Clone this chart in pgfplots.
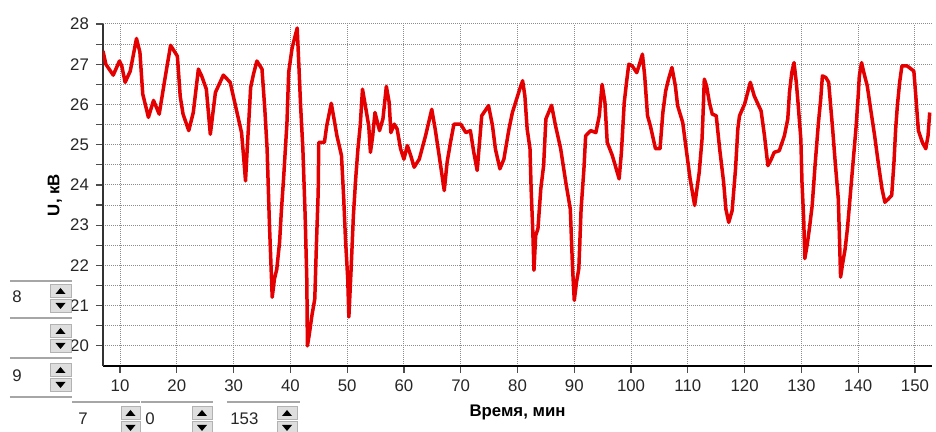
\documentclass[border=0pt]{standalone}
\usepackage{fontspec}
\setmainfont{Liberation Sans}
\usepackage{pgfplots}
\pgfplotsset{compat=1.18}
\usepackage{pgfplotstable}
\definecolor{lred}{RGB}{228,0,0}
\definecolor{gridg}{RGB}{140,140,140}
\definecolor{btn}{RGB}{222,222,222}
\pgfplotstableread{
x y
7.0 27.33
7.5 27.0
8.8 26.73
9.9 27.08
10.3 26.96
10.9 26.55
11.8 26.83
12.9 27.64
13.5 27.3
14.0 26.26
15.0 25.68
15.9 26.1
16.9 25.76
17.9 26.63
18.9 27.47
20.1 27.2
20.6 26.2
21.1 25.76
22.1 25.35
22.9 25.8
23.8 26.88
24.4 26.7
25.2 26.38
25.9 25.26
26.8 26.3
28.2 26.73
29.4 26.55
30.6 25.8
31.4 25.3
31.8 24.64
32.1 24.1
32.4 24.9
32.7 25.64
33.0 26.42
33.5 26.75
34.1 27.08
35.0 26.88
35.5 25.88
35.9 24.9
36.3 23.07
36.8 21.21
37.2 21.67
37.6 21.9
38.1 22.58
38.4 23.32
38.8 24.15
39.4 25.55
39.7 26.8
40.3 27.4
41.2 27.9
41.5 26.96
41.8 25.97
42.2 24.9
42.6 23.24
42.9 21.6
43.0 20.0
43.3 20.26
43.8 20.76
44.3 21.17
44.6 22.58
44.9 23.82
45.0 25.06
46.0 25.06
46.4 25.47
47.2 26.03
47.8 25.55
48.2 25.22
49.0 24.73
49.4 23.65
49.7 22.66
50.1 21.67
50.3 20.72
50.7 21.92
51.1 23.24
51.5 24.15
51.9 24.9
52.3 25.47
52.7 26.38
53.2 25.97
53.8 25.47
54.1 24.81
54.5 25.22
54.9 25.8
55.7 25.35
56.3 25.64
56.9 26.45
57.4 26.05
57.7 25.3
58.3 25.51
58.8 25.39
59.4 24.9
60.0 24.64
60.6 24.98
61.2 24.73
61.8 24.44
62.7 24.64
63.8 25.22
64.9 25.88
65.5 25.39
66.2 24.73
67.1 23.86
67.6 24.56
68.2 25.06
68.8 25.51
70.0 25.51
70.9 25.3
71.7 25.35
72.3 24.81
72.9 24.36
73.7 25.72
74.9 25.97
75.6 25.47
76.1 24.9
76.9 24.4
77.6 24.64
78.5 25.39
79.1 25.8
80.3 26.34
80.9 26.59
81.3 26.21
81.7 25.39
82.2 24.9
82.4 23.9
82.7 22.83
82.9 21.88
83.2 22.74
83.6 22.91
84.1 23.9
84.6 24.48
85.0 25.64
86.0 25.98
86.7 25.47
87.6 24.9
88.5 24.07
89.3 23.4
89.7 21.92
90.0 21.13
90.4 21.59
90.8 21.92
91.2 23.4
91.7 24.4
92.0 25.22
92.9 25.35
93.8 25.3
94.4 25.72
94.9 26.5
95.4 26.05
95.8 25.06
96.7 24.73
97.9 24.15
98.3 24.81
98.8 26.05
99.2 26.55
99.6 27.0
100.2 26.96
101.0 26.79
101.4 26.96
102.0 27.25
102.4 26.71
102.9 25.72
103.4 25.47
104.3 24.9
105.1 24.9
105.6 25.8
106.1 26.34
106.6 26.63
107.2 26.92
107.8 26.46
108.2 25.97
109.1 25.55
109.7 24.9
110.4 24.15
111.2 23.49
111.6 23.9
112.0 24.31
112.5 25.14
112.7 25.84
112.9 26.63
113.3 26.46
113.8 26.05
114.3 25.76
115.0 25.72
115.6 24.9
116.3 24.07
116.7 23.4
117.2 23.07
117.8 23.36
118.4 24.4
118.8 25.39
119.1 25.72
120.0 26.01
121.0 26.55
121.7 26.21
122.9 25.84
123.5 25.22
124.1 24.48
124.7 24.64
125.2 24.81
126.1 24.85
127.0 25.22
127.6 25.64
127.9 26.3
128.3 26.79
128.7 27.04
129.1 26.55
129.4 26.05
129.9 25.14
130.1 24.07
130.4 23.16
130.6 22.17
131.0 22.5
131.4 22.91
131.9 23.49
132.4 24.48
133.0 25.55
133.4 26.13
133.7 26.71
134.3 26.67
134.8 26.55
135.1 26.05
135.5 25.39
136.0 24.48
136.5 23.65
136.7 22.7
136.9 21.71
137.3 22.08
137.7 22.41
138.1 22.91
138.4 23.4
138.8 24.07
139.2 24.73
139.6 25.39
140.0 26.21
140.2 26.71
140.6 27.04
141.0 26.79
141.6 26.46
142.2 25.88
142.9 25.22
143.6 24.48
144.2 23.9
144.7 23.57
145.3 23.65
145.9 23.74
146.3 24.56
146.6 25.39
146.9 25.97
147.3 26.55
147.7 26.96
148.6 26.96
149.8 26.83
150.1 26.3
150.6 25.35
151.3 25.06
151.9 24.9
152.3 25.22
152.6 25.8
}\voltage
\begin{document}
\begin{tikzpicture}
\begin{axis}[
  scale only axis, width=414.5pt, height=171pt,
  xmin=7, xmax=153, ymin=19.5, ymax=28,
  axis x line=bottom, axis y line=left,
  x axis line style={-, black, line width=1pt},
  y axis line style={-, black!80, line width=0.8pt},
  xtick={10,20,...,150}, ytick={20,21,...,28},
  minor ytick={20.5,21.5,...,27.5},
  tick align=outside, major tick length=3.5pt, minor tick length=3.5pt,
  tick style={black!70, line width=0.6pt},
  grid=both,
  major grid style={gridg, line width=0.5pt, dash pattern=on 0.5pt off 0.5pt},
  minor grid style={gridg, line width=0.5pt, dash pattern=on 0.5pt off 0.5pt},
  /pgf/number format/assume math mode=true,
  ticklabel style={font=\fontsize{8.4}{9}\selectfont, text=black!85},
  xlabel={\textbf{Время, мин}}, ylabel={\textbf{U, кВ}},
  label style={font=\fontsize{8.4}{10}\selectfont},
  xlabel style={at={(axis description cs:0.5,0)}, anchor=center, yshift=-23pt},
  ylabel style={at={([xshift=-24pt]axis description cs:0,0.5)}, anchor=center},
]
\addplot[lred, line width=1.75pt, line join=round] table[x=x,y=y] {\voltage};
\end{axis}
\begin{scope}[x=0.5pt, y=-0.5pt, shift={(-51.5pt,183pt)}]
  % separator lines
  \foreach \yy in {281,318,358,397} {\draw[gray!70, line width=0.8pt] (10,\yy) -- (72,\yy);}
  \draw[gray!70, line width=0.8pt] (72,402) -- (140,402);
  \draw[gray!70, line width=0.8pt] (141,402) -- (213,402);
  \draw[gray!70, line width=0.8pt] (227,402) -- (300,402);
  % spin buttons
  \foreach \bx/\by/\bw in {50/284/21, 50/324/21, 50/363/21, 121/406/19, 192/406/20, 277/406/20} {
    \draw[gray!60, fill=btn] (\bx,\by) rectangle ++(\bw,13);
    \draw[gray!60, fill=btn] (\bx,\by+15) rectangle ++(\bw,13);
    \fill[black] (\bx+\bw/2-5,\by+10) -- (\bx+\bw/2+5,\by+10) -- (\bx+\bw/2,\by+4) -- cycle;
    \fill[black] (\bx+\bw/2-5,\by+19) -- (\bx+\bw/2+5,\by+19) -- (\bx+\bw/2,\by+25) -- cycle;
  }
  \node[anchor=west, inner sep=0pt, font=\fontsize{8.4}{9}\selectfont, text=black!85] at (12,297) {8};
  \node[anchor=west, inner sep=0pt, font=\fontsize{8.4}{9}\selectfont, text=black!85] at (12,376) {9};
  \node[anchor=west, inner sep=0pt, font=\fontsize{8.4}{9}\selectfont, text=black!85] at (78,419) {7};
  \node[anchor=west, inner sep=0pt, font=\fontsize{8.4}{9}\selectfont, text=black!85] at (145,419) {0};
  \node[anchor=west, inner sep=0pt, font=\fontsize{8.4}{9}\selectfont, text=black!85] at (230,419) {153};
\end{scope}
\pgfresetboundingbox
\path (-51.5pt,-33pt) rectangle (416.5pt,183pt);
\end{tikzpicture}
\end{document}
